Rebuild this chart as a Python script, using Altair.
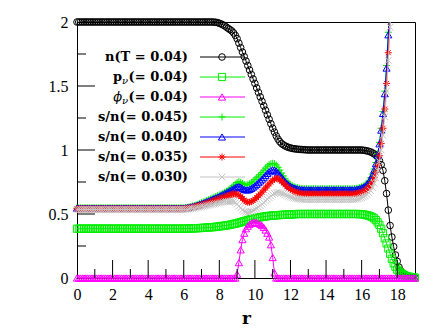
import altair as alt
import pandas as pd

# ---------------- data ----------------
# sampling grid of r (step 0.1, 0 .. 19)
r_grid = [round(i * 0.1, 1) for i in range(191)]

x_tick_labels = [0, 2, 4, 6, 8, 10, 12, 14, 16, 18]
x_minor_ticks = [1, 3, 5, 7, 9, 11, 13, 15, 17]
y_tick_labels = [0, 0.5, 1, 1.5, 2]
y_minor_ticks = [0.25, 0.75, 1.25, 1.75]

# n(T = 0.04)
n_vals = ([2.0] * 77 +
          [1.999, 1.998, 1.995, 1.99, 1.985, 1.978, 1.97, 1.96, 1.95, 1.94, 1.93, 1.915, 1.895,
           1.87, 1.835, 1.80, 1.765, 1.73, 1.695, 1.66, 1.625, 1.59, 1.555,
           1.52, 1.485, 1.45, 1.415, 1.38, 1.345, 1.31, 1.275, 1.24, 1.205,
           1.17, 1.14, 1.11, 1.085, 1.065, 1.05, 1.04, 1.032, 1.025, 1.02, 1.016] +
          [1.012, 1.01, 1.008, 1.006, 1.005, 1.004, 1.003, 1.002, 1.001, 1.0] + [1.0] * 30 +
          [0.998, 0.996, 0.993, 0.99, 0.985] +
          [0.978, 0.97, 0.96, 0.945,
           0.92, 0.885, 0.84, 0.76, 0.66, 0.53, 0.41, 0.32, 0.245, 0.18,
           0.13, 0.085, 0.055, 0.038, 0.027, 0.02, 0.015, 0.011, 0.008, 0.005, 0.003])

# p_nu(= 0.04)
p_vals = ([0.385] * 61 +
          [0.386, 0.386, 0.387, 0.387, 0.388, 0.388, 0.389, 0.39, 0.39, 0.391,
           0.392, 0.393, 0.394, 0.395, 0.396, 0.397, 0.398, 0.40, 0.401, 0.403] +
          [0.405, 0.407, 0.409, 0.411, 0.413, 0.416, 0.419, 0.422, 0.425,
           0.428, 0.432, 0.436, 0.44, 0.444, 0.448, 0.452, 0.456, 0.46, 0.463,
           0.466, 0.469, 0.472, 0.475, 0.477, 0.479, 0.481, 0.483, 0.485, 0.487,
           0.488, 0.489, 0.49, 0.491, 0.492, 0.493, 0.494, 0.495, 0.495, 0.496, 0.496] +
          [0.497, 0.498, 0.499, 0.5, 0.5] + [0.5] * 32 + [0.5, 0.499, 0.498, 0.496, 0.493] +
          [0.49, 0.487, 0.482, 0.475, 0.466, 0.452, 0.435,
           0.415, 0.385, 0.35, 0.31, 0.27, 0.23, 0.19, 0.15, 0.115, 0.088,
           0.065, 0.05, 0.04, 0.03, 0.022, 0.016, 0.012, 0.009, 0.006, 0.004, 0.003])

# phi_nu(= 0.04)
phi_vals = ([0.0] * 90 +
            [0.03, 0.12, 0.22, 0.30, 0.35, 0.385, 0.405, 0.42, 0.428, 0.433,
             0.435, 0.433, 0.428, 0.42, 0.41, 0.395, 0.375, 0.35, 0.32, 0.26,
             0.16, 0.04] +
            [0.0] * 79)

# s/n(= 0.045)
sn045 = ([0.548] * 61 +
         [0.55, 0.552, 0.555, 0.558, 0.562, 0.566, 0.571, 0.576, 0.582,
          0.588, 0.594, 0.6, 0.606, 0.612, 0.618, 0.624, 0.63, 0.636, 0.642,
          0.648, 0.655, 0.662, 0.67, 0.678, 0.687, 0.697, 0.708, 0.72, 0.733, 0.745] +
         [0.752, 0.748, 0.738, 0.73, 0.727, 0.728, 0.735, 0.745, 0.757,
          0.77, 0.783, 0.796, 0.81, 0.825, 0.842, 0.858, 0.873, 0.885, 0.893,
          0.896, 0.893, 0.882, 0.865, 0.843, 0.82, 0.797, 0.775, 0.756, 0.74, 0.728] +
         [0.72, 0.714, 0.709, 0.705, 0.702, 0.7, 0.698, 0.697] + [0.697] * 27 +
         [0.698, 0.7, 0.703, 0.707, 0.712] +
         [0.718, 0.727, 0.74, 0.758, 0.782, 0.812, 0.852, 0.902, 0.97,
          1.06, 1.17, 1.30, 1.46, 1.66, 1.92, 2.2])

# s/n(= 0.040)
sn040 = ([0.546] * 61 +
         [0.548, 0.55, 0.552, 0.555, 0.558, 0.562, 0.566, 0.571, 0.576,
          0.581, 0.586, 0.591, 0.597, 0.602, 0.608, 0.614, 0.62, 0.626, 0.632,
          0.638, 0.645, 0.652, 0.659, 0.666, 0.674, 0.682, 0.69, 0.698, 0.706, 0.712] +
         [0.714, 0.71, 0.70, 0.692, 0.688, 0.688, 0.693, 0.70, 0.71,
          0.72, 0.732, 0.745, 0.758, 0.772, 0.787, 0.802, 0.817, 0.83, 0.84,
          0.845, 0.843, 0.835, 0.822, 0.805, 0.787, 0.769, 0.753, 0.739, 0.727, 0.717] +
         [0.71, 0.704, 0.7, 0.696, 0.693, 0.691, 0.69, 0.69] + [0.689] * 27 +
         [0.69, 0.692, 0.695, 0.699, 0.704] +
         [0.71, 0.719, 0.732, 0.75, 0.774, 0.804, 0.843, 0.893, 0.96,
          1.048, 1.155, 1.285, 1.44, 1.64, 1.9, 2.17])

# s/n(= 0.035)
sn035 = ([0.54] * 61 +
         [0.542, 0.544, 0.546, 0.549, 0.552, 0.555, 0.559, 0.563, 0.567,
          0.571, 0.575, 0.58, 0.584, 0.589, 0.594, 0.599, 0.604, 0.609, 0.614,
          0.619, 0.624, 0.629, 0.634, 0.639, 0.644, 0.649, 0.653, 0.656, 0.657, 0.655] +
         [0.648, 0.636, 0.621, 0.607, 0.597, 0.592, 0.592, 0.597, 0.605,
          0.616, 0.628, 0.642, 0.656, 0.671, 0.687, 0.703, 0.719, 0.735, 0.75,
          0.763, 0.773, 0.778, 0.776, 0.768, 0.756, 0.742, 0.728, 0.714, 0.702, 0.692] +
         [0.684, 0.677, 0.671, 0.667, 0.663, 0.66, 0.658, 0.657] + [0.656] * 27 +
         [0.657, 0.659, 0.662, 0.666, 0.671] +
         [0.677, 0.685, 0.696, 0.71, 0.728, 0.752, 0.784, 0.826, 0.882,
          0.955, 1.05, 1.17, 1.32, 1.52, 1.76, 2.02, 2.3])

# s/n(= 0.030)
sn030 = ([0.535] * 61 +
         [0.536, 0.537, 0.539, 0.541, 0.543, 0.545, 0.548, 0.551, 0.554,
          0.557, 0.56, 0.563, 0.566, 0.569, 0.572, 0.575, 0.578, 0.581, 0.584,
          0.587, 0.59, 0.593, 0.596, 0.598, 0.6, 0.601, 0.6, 0.597, 0.59, 0.578] +
         [0.563, 0.547, 0.532, 0.521, 0.515, 0.513, 0.515, 0.52, 0.527,
          0.535, 0.544, 0.554, 0.565, 0.577, 0.589, 0.602, 0.615, 0.628, 0.64,
          0.651, 0.66, 0.666, 0.668, 0.666, 0.664, 0.658, 0.652, 0.645, 0.639, 0.633] +
         [0.628, 0.624, 0.621, 0.619, 0.617, 0.616, 0.615, 0.614] + [0.613] * 27 +
         [0.614, 0.616, 0.619, 0.623, 0.628] +
         [0.634, 0.642, 0.652, 0.666, 0.684, 0.708, 0.74, 0.782, 0.838,
          0.91, 1.0, 1.115, 1.26, 1.46, 1.7, 1.96, 2.25])

series_values = [n_vals, p_vals, phi_vals, sn045, sn040, sn035, sn030]
series_colors = ["#000000", "#00ee00", "#ff00ff", "#00ee00", "#0000ff", "#ff0000", "#c4c4c4"]

PLUS = "M-1,0L1,0M0,-1L0,1"
STAR = "M-1,0L1,0M0,-1L0,1M-0.7,-0.7L0.7,0.7M-0.7,0.7L0.7,-0.7"
CROSS = "M-0.7,-0.7L0.7,0.7M-0.7,0.7L0.7,-0.7"
series_shapes = ["circle", "square", "triangle-up", PLUS, "triangle-up", STAR, CROSS]
series_sizes = [44, 52, 52, 50, 50, 50, 90]

# legend texts
legend_plain = ["n(T = 0.04)", None, None, "s/n(= 0.045)", "s/n(= 0.040)", "s/n(= 0.035)", "s/n(= 0.030)"]
legend_sub_main = [None, "p", "ϕ", None, None, None, None]
legend_sub_tail = "(= 0.04)"
legend_sub = "ν"

# ---------------- chart ----------------
W, H = 338, 256
XMAX, YMAX = 19, 2
xs = alt.Scale(domain=[0, XMAX], nice=False, zero=False)
ys = alt.Scale(domain=[0, YMAX], nice=False, zero=False)
SERIF = "Liberation Serif"
MAJ_PX, MIN_PX = 18, 9   # inward tick lengths in pixels

x_axis = alt.Axis(values=x_tick_labels, format="~g", ticks=False, grid=False,
                  domainColor="black", domainWidth=1, labelFlush=False, labelOverlap=False,
                  labelFont=SERIF, labelFontSize=16, labelColor="black",
                  labelPadding=8, title="r", titleFont="DejaVu Serif", titleFontSize=17,
                  titleFontWeight="bold", titleColor="black", titlePadding=8)
y_axis = alt.Axis(values=y_tick_labels, format="~g", ticks=False, grid=False,
                  domainColor="black", domainWidth=1, labelFlush=False, labelOverlap=False,
                  labelFont=SERIF, labelFontSize=16, labelColor="black",
                  labelPadding=9, title="")


def X(field):
    return alt.X(field, scale=xs, axis=x_axis, title="r")


def Y(field):
    return alt.Y(field, scale=ys, axis=y_axis, title="")


layers = []

# data series: line then open markers, in plotting order
for vals, col, shp, sz in zip(series_values, series_colors, series_shapes, series_sizes):
    d = pd.DataFrame({"r": r_grid[:len(vals)], "v": vals})
    base = alt.Chart(d)
    layers.append(base.mark_line(color=col, strokeWidth=1, clip=True).encode(x=X("r:Q"), y=Y("v:Q")))
    layers.append(base.transform_filter("datum.v <= 2.0001")
                  .mark_point(shape=shp, size=sz, color=col, filled=False, strokeWidth=1, opacity=1)
                  .encode(x=X("r:Q"), y=Y("v:Q")))

one = pd.DataFrame({"k": [0]})

# inward (gnuplot-style) tick marks, placed from the tick lists
for t in x_tick_labels[1:] + x_minor_ticks:
    ln = MAJ_PX if t in x_tick_labels else MIN_PX
    px = t * W / XMAX
    layers.append(alt.Chart(one).mark_rule(color="black", strokeWidth=1)
                  .encode(x=alt.value(px), y=alt.value(H), y2=alt.value(H - ln)))
for t in y_tick_labels[1:-1] + y_minor_ticks:
    ln = MAJ_PX if t in y_tick_labels else MIN_PX
    py = H - t * H / YMAX
    layers.append(alt.Chart(one).mark_rule(color="black", strokeWidth=1)
                  .encode(y=alt.value(py), x=alt.value(0), x2=alt.value(ln)))

# legend (drawn manually: text, line sample, marker)
TX, L0, L1, MX = 111, 123, 168, 145
for i in range(7):
    yy = 35 + 20 * i
    col = series_colors[i]
    if legend_plain[i] is not None:
        layers.append(alt.Chart(one).mark_text(align="right", baseline="middle", font="DejaVu Serif",
                                               fontSize=13, fontWeight="bold", color="black")
                      .encode(x=alt.value(TX), y=alt.value(yy), text=alt.value(legend_plain[i])))
    else:
        layers.append(alt.Chart(one).mark_text(align="right", baseline="middle", font="DejaVu Serif",
                                               fontSize=13, fontWeight="bold", color="black")
                      .encode(x=alt.value(TX), y=alt.value(yy), text=alt.value(legend_sub_tail)))
        layers.append(alt.Chart(one).mark_text(align="right", baseline="middle", font="DejaVu Serif",
                                               fontSize=10, fontStyle="italic", color="black")
                      .encode(x=alt.value(TX - 60), y=alt.value(yy + 4), text=alt.value(legend_sub)))
        main_style = dict(fontWeight="bold") if i == 1 else dict(fontStyle="italic")
        layers.append(alt.Chart(one).mark_text(align="right", baseline="middle", font="DejaVu Serif",
                                               fontSize=13, color="black", **main_style)
                      .encode(x=alt.value(TX - 66), y=alt.value(yy), text=alt.value(legend_sub_main[i])))
    layers.append(alt.Chart(one).mark_rule(color=col, strokeWidth=1)
                  .encode(x=alt.value(L0), x2=alt.value(L1), y=alt.value(yy)))
    layers.append(alt.Chart(one).mark_point(shape=series_shapes[i], size=series_sizes[i], color=col,
                                            filled=False, strokeWidth=1, opacity=1)
                  .encode(x=alt.value(MX), y=alt.value(yy)))

chart = (alt.layer(*layers)
         .properties(width=W, height=H, background="white",
                     autosize=alt.AutoSizeParams(type="none"),
                     padding={"left": 69, "top": 14, "right": 20, "bottom": 50})
         .configure_view(stroke="black", strokeWidth=1)
         .configure_axis(labelFont=SERIF, labelFontSize=16, labelColor="black"))

chart.save("out.html", embed_options={"renderer": "svg", "actions": False})
